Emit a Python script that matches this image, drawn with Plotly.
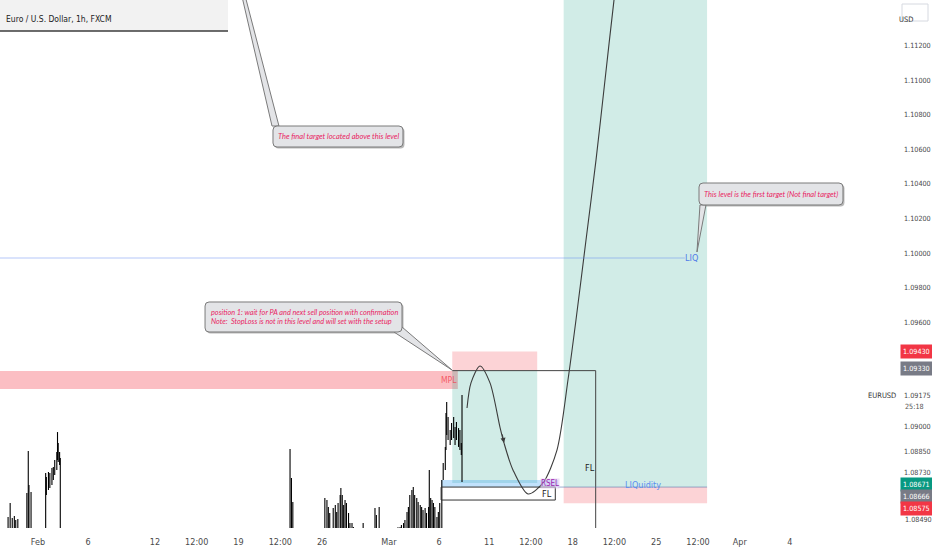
import plotly.graph_objects as go

# ---------------- data (x = trading hours from 1 Feb 2024 00:00, weekends removed) ----------------
BAR_HOUR = [
    -43, -40, -37, -34, -32, -29,
    -16, -14, -13, -10,
    11, 12, 15, 17, 20, 22, 24, 27, 28, 29, 31, 32,
    362, 364, 366,
    412, 415, 417, 419, 424, 427, 429, 431, 434, 435, 437, 439, 441, 443, 446, 448, 451, 453,
    467, 484, 486, 490,
    517, 520, 522, 525, 527, 530, 532, 534, 537, 539, 541, 544, 546, 549, 551, 553, 556, 558,
    561, 562, 564, 566, 568, 570, 573, 575, 577,
    580, 582, 585, 586, 587, 589, 592, 594, 597, 599, 601, 604, 606, 608, 609,
]
BAR_HIGH = [
    1.08474, 1.08555, 1.08468, 1.08480, 1.08457, 1.08462,
    1.08613, 1.08855, 1.08659, 1.08618,
    1.08728, 1.08705, 1.08734, 1.08728, 1.08757, 1.08763, 1.08803, 1.08850, 1.08965, 1.08902, 1.08850, 1.08815,
    1.08867, 1.08699, 1.08561,
    1.08584, 1.08572, 1.08532, 1.08497, 1.08526, 1.08543, 1.08503, 1.08555, 1.08601, 1.08642, 1.08601,
    1.08543, 1.08572, 1.08555, 1.08497, 1.08439, 1.08439, 1.08416,
    1.08439, 1.08526, 1.08486, 1.08532,
    1.08415, 1.08416, 1.08428, 1.08439, 1.08457, 1.08503, 1.08532, 1.08601, 1.08630, 1.08647, 1.08601,
    1.08584, 1.08561, 1.08543, 1.08532, 1.08514, 1.08526, 1.08497, 1.08532, 1.08746, 1.08584, 1.08572,
    1.08555, 1.08532, 1.08474, 1.08503, 1.08555,
    1.08688, 1.08786, 1.08879, 1.09075, 1.09139, 1.09052, 1.08977, 1.09017, 1.09052, 1.08994, 1.09023,
    1.08988, 1.08977, 1.08902, 1.09179,
]
BAR_LOW = [
    1.08000, 1.08000, 1.08000, 1.08000, 1.08000, 1.08000,
    1.08000, 1.08000, 1.08000, 1.08000,
    1.08000, 1.08601, 1.08630, 1.08642, 1.08659, 1.08688, 1.08717, 1.08746, 1.08803, 1.08792, 1.08775, 1.08000,
    1.08000, 1.08000, 1.08000,
    1.08000, 1.08000, 1.08000, 1.08000, 1.08000, 1.08000, 1.08000, 1.08000, 1.08000, 1.08000, 1.08000,
    1.08000, 1.08000, 1.08000, 1.08000, 1.08000, 1.08000, 1.08000,
    1.08000, 1.08000, 1.08000, 1.08000,
    1.08000, 1.08000, 1.08000, 1.08000, 1.08000, 1.08000, 1.08000, 1.08000, 1.08000, 1.08000, 1.08000,
    1.08000, 1.08000, 1.08000, 1.08000, 1.08000, 1.08000, 1.08000, 1.08000, 1.08000, 1.08000, 1.08000,
    1.08000, 1.08000, 1.08000, 1.08000, 1.08000,
    1.08000, 1.08688, 1.08746, 1.08861, 1.08948, 1.08919, 1.08890, 1.08919, 1.08930, 1.08890, 1.08919,
    1.08879, 1.08861, 1.08832, 1.08676,
]
assert len(BAR_HOUR) == len(BAR_HIGH) == len(BAR_LOW)

X_TICK_HOURS = [0, 72, 168, 228, 288, 348, 408, 504, 576, 648, 708, 768, 828, 888, 948, 1008, 1080]
X_TICK_TEXT = ["Feb", "6", "12", "12:00", "19", "12:00", "26", "Mar", "6", "11", "12:00", "18",
               "12:00", "25", "12:00", "Apr", "4"]
Y_TICK_VALUES = [1.112, 1.110, 1.108, 1.106, 1.104, 1.102, 1.100, 1.098, 1.096,
                 1.09175, 1.090, 1.0885, 1.0873]
Y_TICK_TEXT = ["1.11200", "1.11000", "1.10800", "1.10600", "1.10400", "1.10200", "1.10000", "1.09800",
               "1.09600", "1.09175", "1.09000", "1.08850", "1.08730"]
LOW_TICK_VALUE, LOW_TICK_TEXT = 1.0849, "1.08490"

# drawing levels (prices) and anchors (hours)
MPL_ZONE = (1.09214, 1.09318)
SHORT_POS = dict(x0=595, x1=717, stop=1.0943, entry=1.0932, target=1.08671)
LONG_POS = dict(x0=755, x1=961, stop=1.08553, entry=1.08647, target=1.13)
RSEL_ZONE = dict(x0=579, x1=747, lo=1.08647, hi=1.08688)
FL_BOX = dict(x0=579, x1=743, lo=1.08572, hi=1.08647)
FL_RECT = dict(x0=595, x1=801, top=1.0932)
LIQ_LEVEL = 1.09971
LIQ_END = 929
LIQUIDITY_LEVEL = 1.08647
CURVE_HOUR = [616.2, 621.9, 634.8, 649.2, 663.5, 669.3, 682.2, 703.8, 725.3, 745.4, 761.2, 772.7,
              787.1, 801.5, 814.4, 827.3, 833.0]
CURVE_PRICE = [1.09104, 1.09249, 1.09347, 1.09249, 1.08994, 1.08902, 1.08746, 1.08607, 1.08671,
               1.08861, 1.09266, 1.09613, 1.10075, 1.10538, 1.11000, 1.11462, 1.11636]
PRICE_LABELS = [("1.09430", 1.09430, "#f23645", 0), ("1.09330", 1.09330, "#787b86", 0),
                ("1.08671", 1.08671, "#089981", -1.5), ("1.08666", 1.08666, "#787b86", -13),
                ("1.08575", 1.08575, "#f23645", -8.5)]

X_RANGE = [-54.6, 1238.1]
Y_RANGE = [1.084104, 1.114624]

# ---------------- figure ----------------
W, H = 932, 550
ML, MR, MT, MB = 0, 32, 0, 22
pw, ph = W - ML - MR, H - MT - MB
hpp = (X_RANGE[1] - X_RANGE[0]) / pw      # hours per pixel
ppp = (Y_RANGE[1] - Y_RANGE[0]) / ph      # price per pixel

fig = go.Figure()

xs, ys = [], []
for h, lo, hi in zip(BAR_HOUR, BAR_LOW, BAR_HIGH):
    xs += [h, h, None]
    ys += [lo, hi, None]
fig.add_trace(go.Scatter(x=xs, y=ys, mode="lines", line=dict(color="#000000", width=1.1),
                         hoverinfo="skip", showlegend=False))

fig.add_trace(go.Scatter(x=CURVE_HOUR, y=CURVE_PRICE, mode="lines",
                         line=dict(color="#3b3b3b", width=1.1, shape="spline", smoothing=0.8),
                         hoverinfo="skip", showlegend=False))

shapes = []


def rect(x0, x1, y0, y1, fill, line=None, layer="below", lw=1):
    shapes.append(dict(type="rect", xref="x", yref="y", x0=x0, x1=x1, y0=y0, y1=y1,
                       fillcolor=fill, line=dict(color=line or "rgba(0,0,0,0)", width=lw if line else 0),
                       layer=layer))


def seg(x0, y0, x1, y1, color, width=1, dash="solid"):
    shapes.append(dict(type="line", xref="x", yref="y", x0=x0, y0=y0, x1=x1, y1=y1,
                       line=dict(color=color, width=width, dash=dash), layer="above"))


RED = "rgba(242,54,69,0.22)"
GREEN = "rgba(8,153,129,0.19)"

rect(X_RANGE[0] - 20, 603, MPL_ZONE[0], MPL_ZONE[1], "rgba(242,54,69,0.32)")
rect(SHORT_POS["x0"], SHORT_POS["x1"], SHORT_POS["entry"], SHORT_POS["stop"], RED)
rect(SHORT_POS["x0"], SHORT_POS["x1"], SHORT_POS["target"], SHORT_POS["entry"], GREEN)
rect(LONG_POS["x0"], LONG_POS["x1"], LONG_POS["entry"], LONG_POS["target"], GREEN)
rect(LONG_POS["x0"], LONG_POS["x1"], LONG_POS["stop"], LONG_POS["entry"], RED)
rect(RSEL_ZONE["x0"], RSEL_ZONE["x1"], RSEL_ZONE["lo"], RSEL_ZONE["hi"], "rgba(33,150,243,0.28)")
rect(FL_BOX["x0"], FL_BOX["x1"], FL_BOX["lo"], FL_BOX["hi"], "rgba(255,255,255,0)", line="#333333",
     layer="above")
seg(FL_RECT["x0"], FL_RECT["top"], FL_RECT["x1"], FL_RECT["top"], "#444444")
seg(FL_RECT["x1"], FL_RECT["top"], FL_RECT["x1"], Y_RANGE[0] - 0.01, "#444444")
seg(X_RANGE[0] - 20, LIQ_LEVEL, LIQ_END, LIQ_LEVEL, "rgba(92,128,240,0.45)")
seg(RSEL_ZONE["x1"], LIQUIDITY_LEVEL, LONG_POS["x1"], LIQUIDITY_LEVEL, "rgba(80,110,170,0.55)")


def rounded(x0, x1, y0, y1, r=4):
    rx, ry = r * hpp, r * ppp
    return (f"M {x0+rx},{y1} L {x1-rx},{y1} Q {x1},{y1} {x1},{y1-ry} L {x1},{y0+ry} "
            f"Q {x1},{y0} {x1-rx},{y0} L {x0+rx},{y0} Q {x0},{y0} {x0},{y0+ry} "
            f"L {x0},{y1-ry} Q {x0},{y1} {x0+rx},{y1} Z")


CALLOUT_FILL = "#e3e4e7"
CALLOUT_LINE = "#7a7a7a"
CALLOUTS = [
    dict(box=(337.5, 524.2, 1.106127, 1.107341), tail=((336.1, 1.107341), (254.2, 1.121561), (346.1, 1.107341))),
    dict(box=(239.9, 522.8, 1.095434, 1.097168), tail=((511.3, 1.095434), (594.6, 1.093237), (522.8, 1.095723))),
    dict(box=(949.4, 1156.2, 1.102775, 1.104046), tail=((950.8, 1.102775), (946.5, 1.100058), (959.4, 1.102775))),
]
for c in CALLOUTS:
    x0, x1, y0, y1 = c["box"]
    sx, sy = 1.5 * hpp, 1.5 * ppp
    shapes.append(dict(type="path", xref="x", yref="y", path=rounded(x0 + sx, x1 + sx, y0 - sy, y1 - sy),
                       fillcolor="#b8b8b8", line=dict(width=0), layer="above"))
    (ax_, ay_), (tx, ty), (bx, by) = c["tail"]
    shapes.append(dict(type="path", xref="x", yref="y",
                       path=f"M {ax_},{ay_} L {tx},{ty} L {bx},{by} Z",
                       fillcolor=CALLOUT_FILL, line=dict(color=CALLOUT_LINE, width=1), layer="above"))
    shapes.append(dict(type="path", xref="x", yref="y", path=rounded(x0, x1, y0, y1),
                       fillcolor=CALLOUT_FILL, line=dict(color=CALLOUT_LINE, width=1), layer="above"))

# TradingView legend box & USD button (paper coords)
shapes.append(dict(type="rect", xref="paper", yref="paper", x0=0, x1=228 / pw, y0=1 - 31 / ph, y1=1,
                   fillcolor="#f2f2f2", line=dict(width=0), layer="above"))
shapes.append(dict(type="line", xref="paper", yref="paper", x0=0, x1=228 / pw, y0=1 - 31 / ph, y1=1 - 31 / ph,
                   line=dict(color="#3c3c3c", width=1.5), layer="above"))
shapes.append(dict(type="rect", xref="paper", yref="paper", x0=902 / pw, x1=928 / pw, y0=1 - 21 / ph,
                   y1=1 - 4 / ph, fillcolor="#ffffff", line=dict(color="#d6d9e0", width=1), layer="above"))

NARROW = "DejaVu Sans Condensed, Liberation Sans Narrow, Roboto Condensed, Roboto, sans-serif"
NOTE = dict(family="Lato, Open Sans, sans-serif", size=7.5, color="#e91e63", style="italic")
NOTE2 = dict(NOTE, size=7.3)

ann = []
ann.append(dict(x=430.9, y=1.106734, xref="x", yref="y", text="The final target located above this level",
                showarrow=False, font=NOTE))
ann.append(dict(x=245.6, y=1.09630, xref="x", yref="y", xanchor="left", align="left",
                text="position 1: wait for PA and next sell position with confirmation<br>"
                     "Note:&nbsp; StopLoss is not in this level and will set with the setup",
                showarrow=False, font=NOTE2))
ann.append(dict(x=1052.8, y=1.10341, xref="x", yref="y", text="This level is the first target (Not final target)",
                showarrow=False, font=NOTE))
ann.append(dict(x=938, y=LIQ_LEVEL, xref="x", yref="y", text="LIQ", showarrow=False,
                font=dict(family=NARROW, size=9, color="#4f7be8")))
ann.append(dict(x=869, y=LIQUIDITY_LEVEL, xref="x", yref="y", text="LIQuidity", showarrow=False, yshift=2,
                font=dict(family=NARROW, size=9, color="#5b8def")))
ann.append(dict(x=735, y=1.08667, xref="x", yref="y", text="RSEL", showarrow=False,
                bgcolor="rgba(225,200,240,0.6)", borderpad=0,
                font=dict(family=NARROW, size=8, color="#9c27b0")))
ann.append(dict(x=731, y=1.08609, xref="x", yref="y", text="FL", showarrow=False,
                font=dict(family=NARROW, size=9, color="#222222")))
ann.append(dict(x=793, y=1.08757, xref="x", yref="y", text="FL", showarrow=False,
                font=dict(family=NARROW, size=9, color="#222222")))
ann.append(dict(x=590, y=1.09266, xref="x", yref="y", text="MPL", showarrow=False,
                font=dict(family=NARROW, size=8.5, color="rgba(242,54,69,0.75)")))
ann.append(dict(x=669.3, y=1.08902, ax=666.5, ay=1.08960, xref="x", yref="y", axref="x", ayref="y",
                text="", showarrow=True, arrowhead=2, arrowsize=1, arrowwidth=1, arrowcolor="#3b3b3b"))
ann.append(dict(x=4 / pw, y=1 - 12 / ph, xref="paper", yref="paper", xanchor="left", text="Euro / U.S. Dollar, 1h, FXCM",
                showarrow=False, font=dict(family=NARROW, size=8.5, color="#222222")))
ann.append(dict(x=915 / pw, y=1 - 12.5 / ph, xref="paper", yref="paper", text="USD", showarrow=False,
                font=dict(family=NARROW, size=7.5, color="#333333")))
ann.append(dict(x=1, y=1.09175, xref="paper", yref="y", xanchor="right", xshift=-2, text="EURUSD",
                showarrow=False, font=dict(family=NARROW, size=7.5, color="#333333")))
ann.append(dict(x=1, y=1.09175, xref="paper", yref="y", xanchor="left", xshift=3, yshift=-11, text="25:18",
                showarrow=False, font=dict(family=NARROW, size=7.2, color="#555555")))
ann.append(dict(x=1, y=LOW_TICK_VALUE, xref="paper", yref="y", xanchor="left", xshift=3, yshift=-5,
                text=LOW_TICK_TEXT, showarrow=False, font=dict(family=NARROW, size=7.2, color="#4a4a4a")))
for txt, val, col, dy in PRICE_LABELS:
    ann.append(dict(x=1, y=val, xref="paper", yref="y", xanchor="left", xshift=0, yshift=dy, text=txt,
                    showarrow=False, bgcolor=col, borderpad=2,
                    font=dict(family=NARROW, size=7.2, color="#ffffff")))

fig.update_layout(
    width=W, height=H, margin=dict(l=ML, r=MR, t=MT, b=MB, pad=0, autoexpand=False),
    plot_bgcolor="#ffffff", paper_bgcolor="#ffffff",
    shapes=shapes, annotations=ann, showlegend=False,
    xaxis=dict(range=X_RANGE, tickvals=X_TICK_HOURS, ticktext=X_TICK_TEXT, showgrid=False, zeroline=False,
               showline=False, ticks="", ticklabelstandoff=7,
               tickfont=dict(family=NARROW, size=9, color="#4a4a4a"), fixedrange=True),
    yaxis=dict(range=Y_RANGE, side="right", tickvals=Y_TICK_VALUES, ticktext=Y_TICK_TEXT, showgrid=False,
               zeroline=False, showline=False, ticks="", ticklabelstandoff=3,
               tickfont=dict(family=NARROW, size=7.2, color="#4a4a4a"), fixedrange=True),
)

fig.write_html("out.html", config={"displayModeBar": False},
               post_script="document.body.style.margin='0px';")
